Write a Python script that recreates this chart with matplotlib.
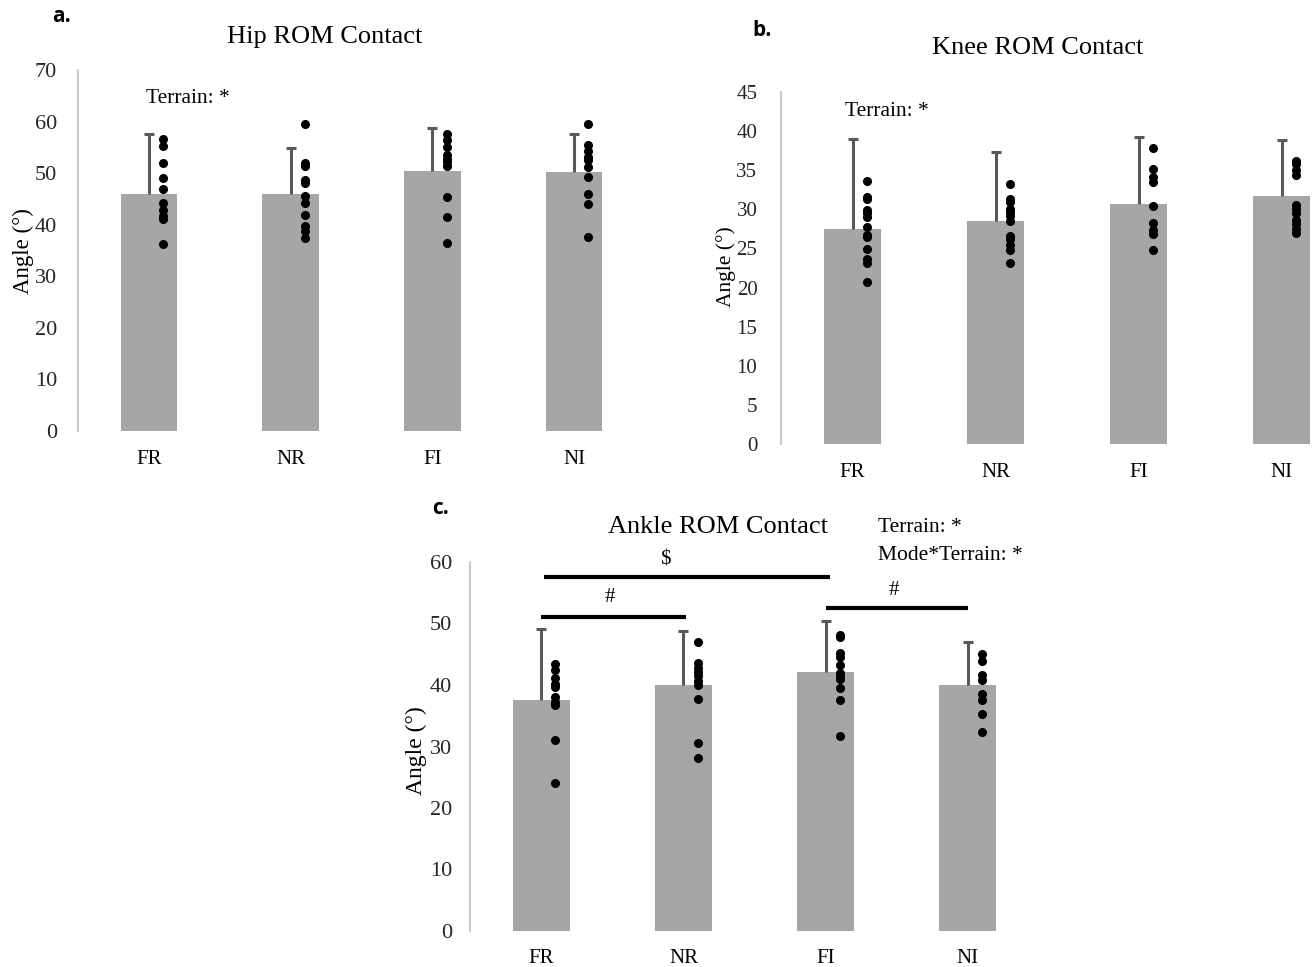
import numpy as np
import matplotlib
matplotlib.use('Agg')
import matplotlib.pyplot as plt

conditions = ['FR', 'NR', 'FI', 'NI']

# Hip ROM at contact (deg)
hip_mean = [46.0, 46.0, 50.4, 50.3]
hip_sd = [11.6, 8.9, 8.4, 7.2]
hip_dots = [
    [56.7, 55.2, 51.9, 49.0, 47.0, 44.3, 42.9, 41.6, 41.2, 36.3],
    [59.5, 52.0, 51.4, 48.6, 48.0, 45.5, 44.2, 41.9, 39.8, 38.8, 37.5],
    [57.6, 56.4, 55.0, 53.5, 52.7, 52.1, 51.3, 45.3, 41.4, 36.4],
    [59.5, 55.5, 54.2, 53.2, 52.5, 51.1, 49.2, 46.0, 44.1, 37.6],
]

# Knee ROM at contact (deg)
knee_mean = [27.5, 28.5, 30.7, 31.7]
knee_sd = [11.5, 8.8, 8.5, 7.1]
knee_dots = [
    [33.6, 31.6, 31.3, 29.9, 29.5, 29.0, 27.8, 26.7, 26.4, 24.9, 23.6, 23.2, 20.7],
    [33.3, 31.3, 31.0, 30.1, 29.6, 29.1, 28.5, 26.6, 26.2, 25.5, 24.8, 23.1],
    [37.9, 35.1, 34.1, 33.5, 30.4, 28.3, 27.3, 26.8, 24.8],
    [36.2, 35.8, 35.0, 34.4, 30.6, 30.0, 29.5, 28.6, 28.1, 27.5, 27.0],
]

# Ankle ROM at contact (deg)
ankle_mean = [37.6, 40.0, 42.1, 40.0]
ankle_sd = [11.5, 8.8, 8.3, 7.0]
ankle_dots = [
    [43.4, 42.4, 41.2, 40.2, 39.6, 38.1, 37.3, 36.7, 31.0, 24.0],
    [47.0, 43.5, 42.8, 42.1, 41.4, 40.7, 40.0, 37.7, 30.5, 28.1],
    [48.2, 47.8, 45.2, 44.6, 43.2, 41.9, 41.3, 40.9, 39.5, 37.5, 31.7],
    [45.0, 43.9, 41.6, 40.8, 38.6, 37.5, 35.3, 32.3],
]

SERIF = 'Liberation Serif'
BAR_COLOR = '#a6a6a6'
ERR_COLOR = '#595959'


def draw_panel(ax, means, sds, dots, ymax, ystep, ylabel_size, tick_size, tick_pad, xpad):
    x = np.arange(len(conditions))
    tops = np.array(means) + np.array(sds)
    ax.bar(x, means, width=0.4, color=BAR_COLOR, zorder=1)
    # plus-only error bars, as in Excel
    ax.vlines(x, means, tops, color=ERR_COLOR, lw=2.2, zorder=2)
    ax.plot(x, tops, linestyle='none', marker='_', markersize=7, markeredgewidth=2.2,
            color=ERR_COLOR, zorder=2)
    for i, vals in enumerate(dots):
        ax.plot(np.full(len(vals), i + 0.1), vals, 'o', color='black',
                markersize=5.5, linestyle='none', zorder=3)

    ax.set_xlim(-0.5, 3.5)
    ax.set_ylim(0, ymax)
    ax.set_yticks(np.arange(0, ymax + 0.1, ystep))
    ax.set_xticks(x)
    ax.set_xticklabels(conditions, fontfamily=SERIF, fontsize=15)
    for lab in ax.get_yticklabels():
        lab.set_fontfamily(SERIF)
        lab.set_fontsize(tick_size)
        lab.set_color('#262626')
    ax.tick_params(axis='both', length=0)
    ax.tick_params(axis='y', pad=tick_pad)
    ax.tick_params(axis='x', pad=xpad)

    for side in ['top', 'right', 'bottom']:
        ax.spines[side].set_visible(False)
    ax.spines['left'].set_color('#bfbfbf')
    ax.spines['left'].set_linewidth(1.2)
    ax.set_ylabel('Angle (°)', fontfamily=SERIF, fontsize=ylabel_size)


fig = plt.figure(figsize=(13.13, 9.67), dpi=100)

# a. Hip
ax_a = fig.add_axes([78 / 1313, 1 - 431 / 967, 567 / 1313, 361 / 967])
draw_panel(ax_a, hip_mean, hip_sd, hip_dots, 70, 10, 16.5, 16, 15, 14)
ax_a.yaxis.set_label_coords(-0.078, 0.499)
fig.text(325 / 1313, 1 - 37 / 967, 'Hip ROM Contact', ha='center', va='center',
         fontfamily=SERIF, fontsize=19)
ax_a.text(-0.02, 64.5, 'Terrain: *', fontfamily=SERIF, fontsize=15.5, va='center')
fig.text(52 / 1313, 1 - 16 / 967, 'a.', fontfamily='Open Sans', fontweight='bold',
         fontsize=15, va='center')

# b. Knee
ax_b = fig.add_axes([781 / 1313, 1 - 444 / 967, 572 / 1313, 352 / 967])
draw_panel(ax_b, knee_mean, knee_sd, knee_dots, 45, 5, 15.5, 15, 17, 14)
ax_b.yaxis.set_label_coords(-0.079, 0.503)
fig.text(1038 / 1313, 1 - 48 / 967, 'Knee ROM Contact', ha='center', va='center',
         fontfamily=SERIF, fontsize=19)
ax_b.text(-0.05, 42.5, 'Terrain: *', fontfamily=SERIF, fontsize=15.5, va='center')
fig.text(752 / 1313, 1 - 31 / 967, 'b.', fontfamily='Open Sans', fontweight='bold',
         fontsize=15, va='center')

# c. Ankle
ax_c = fig.add_axes([470 / 1313, 1 - 931 / 967, 569 / 1313, 369 / 967])
draw_panel(ax_c, ankle_mean, ankle_sd, ankle_dots, 60, 10, 17, 16, 13, 13)
ax_c.yaxis.set_label_coords(-0.076, 0.49)
fig.text(718 / 1313, 1 - 527 / 967, 'Ankle ROM Contact', ha='center', va='center',
         fontfamily=SERIF, fontsize=19)
fig.text(878 / 1313, 1 - 527 / 967, 'Terrain: *', fontfamily=SERIF, fontsize=15.5,
         va='center')
fig.text(878 / 1313, 1 - 556 / 967, 'Mode*Terrain: *', fontfamily=SERIF, fontsize=15.5,
         va='center')
fig.text(432 / 1313, 1 - 509 / 967, 'c.', fontfamily='Open Sans', fontweight='bold',
         fontsize=15, va='center')

# significance lines
ax_c.plot([0.02, 2.03], [57.6, 57.6], color='black', lw=3, solid_capstyle='butt', clip_on=False)
ax_c.text(0.87, 60.3, '$', fontfamily=SERIF, fontsize=15, ha='center', va='center')
ax_c.plot([0.0, 1.02], [51.1, 51.1], color='black', lw=3, solid_capstyle='butt')
ax_c.text(0.48, 54.2, '#', fontfamily=SERIF, fontsize=15, ha='center', va='center')
ax_c.plot([2.0, 3.0], [52.5, 52.5], color='black', lw=3, solid_capstyle='butt')
ax_c.text(2.48, 55.4, '#', fontfamily=SERIF, fontsize=15, ha='center', va='center')

fig.savefig('out.png', dpi=100)
